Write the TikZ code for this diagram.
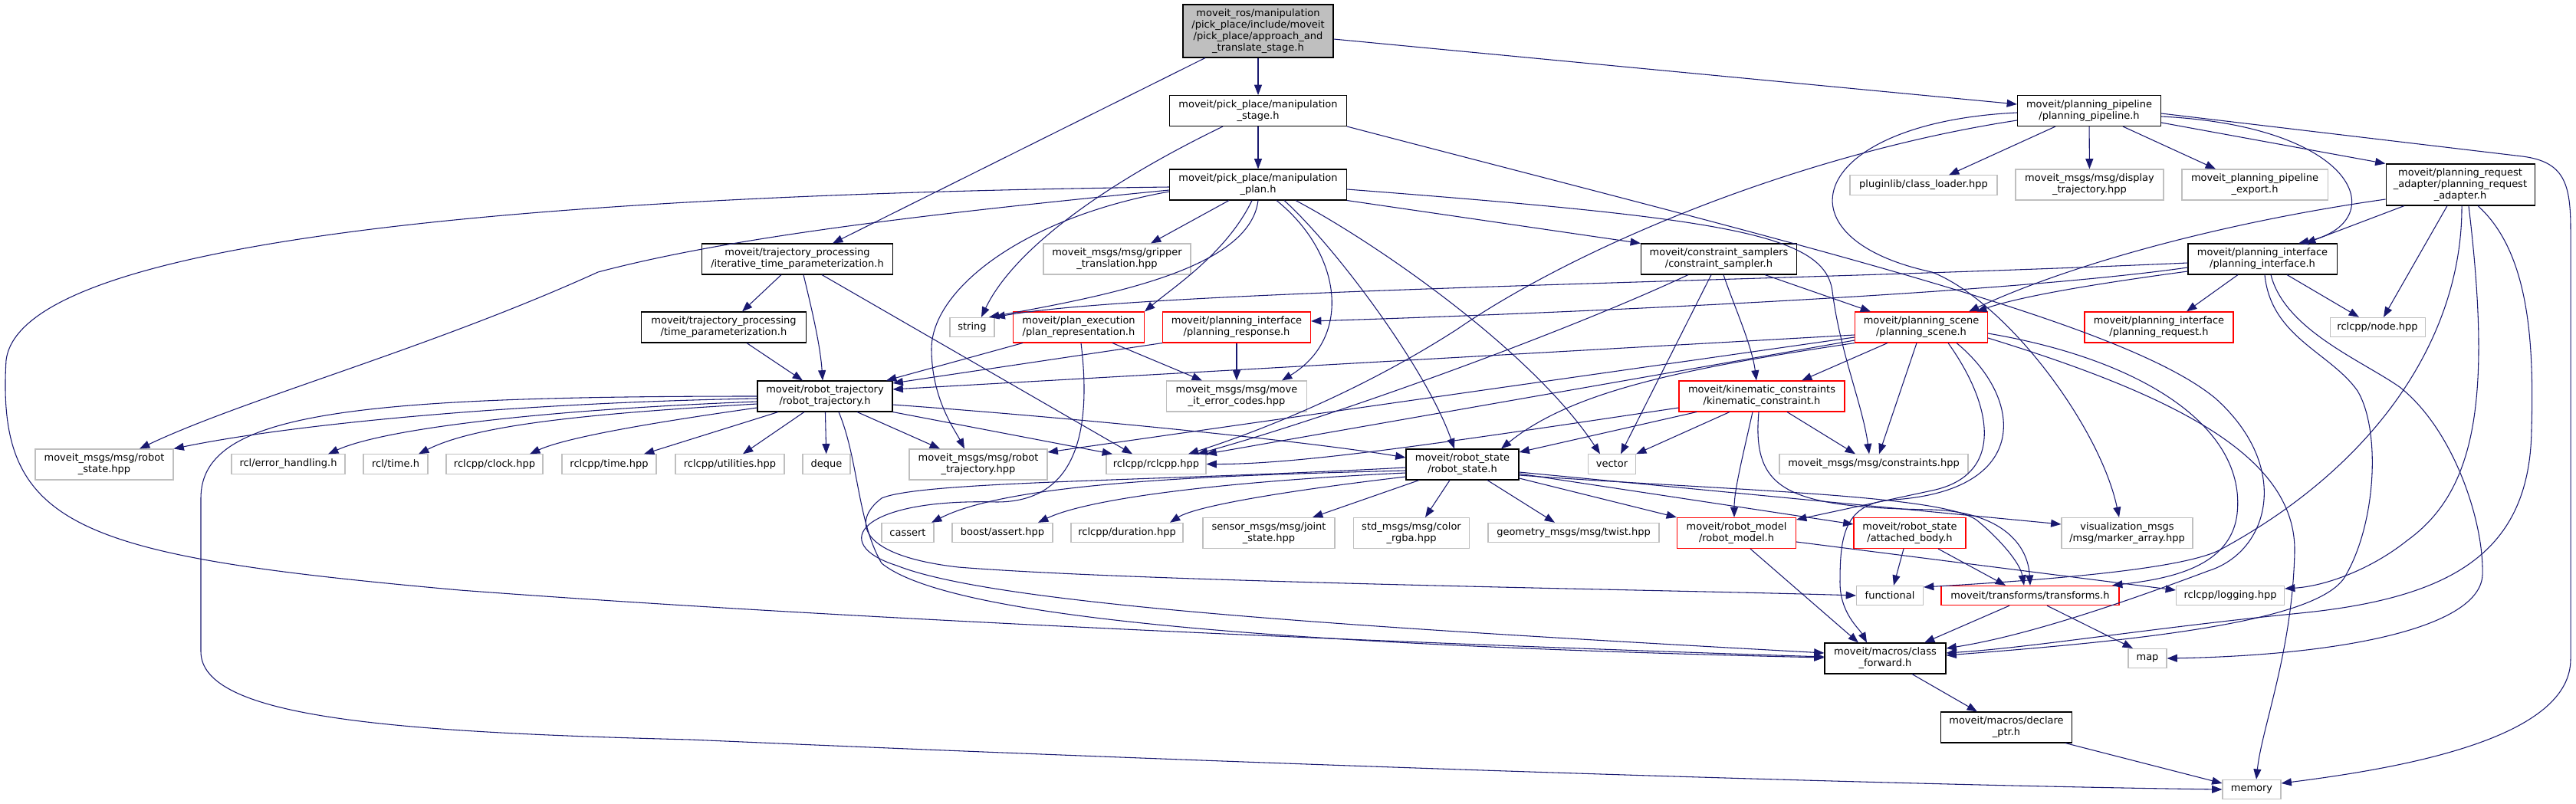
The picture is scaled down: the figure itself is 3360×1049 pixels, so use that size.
\documentclass[tikz,border=0pt]{standalone}
\usepackage{fontspec}
\setmainfont{DejaVu Sans}
\usepackage{tikz}
\usetikzlibrary{arrows.meta}
\definecolor{edgeblue}{HTML}{191970}
\definecolor{sysgray}{HTML}{BFBFBF}
\tikzset{
  hdr/.style    ={draw=black, fill=white, rectangle, align=center, inner sep=2pt,
                  line width=0.8pt, font=\fontsize{9.75}{11.25}\selectfont},
  sys/.style    ={hdr, draw=sysgray},
  trunc/.style  ={hdr, draw=red},
  rootbox/.style={hdr, fill=sysgray},
  l1/.style     ={minimum height=19pt},
  l2/.style     ={minimum height=30pt},
  l3/.style     ={minimum height=40.5pt},
  l4/.style     ={minimum height=51.75pt},
  incl/.style   ={draw=edgeblue, line width=0.8pt, -{Triangle[length=10pt,width=7.5pt]}},
}
\begin{document}
\begin{tikzpicture}[x=0.75pt,y=-0.75pt]
\useasboundingbox (0,0) rectangle (3360,1049);

\node[rootbox,l4,minimum width=147pt] (root) at (1641,40.5) {moveit\_ros/manipulation\\/pick\_place/include/moveit\\/pick\_place/approach\_and\\\_translate\_stage.h};
\node[hdr,l2,minimum width=173.25pt] (stage) at (1641,144.5) {moveit/pick\_place/manipulation\\\_stage.h};
\node[hdr,l2,minimum width=173.25pt] (plan) at (1641,241) {moveit/pick\_place/manipulation\\\_plan.h};
\node[hdr,l2,minimum width=186.75pt] (iter) at (1040,338) {moveit/trajectory\_processing\\/iterative\_time\_parameterization.h};
\node[sys,l2,minimum width=144pt] (grip) at (1457,338) {moveit\_msgs/msg/gripper\\\_translation.hpp};
\node[hdr,l2,minimum width=152.25pt] (csamp) at (2242,338) {moveit/constraint\_samplers\\/constraint\_sampler.h};
\node[sys,l1,minimum width=144pt] (plugin) at (2509,241.5) {pluginlib/class\_loader.hpp};
\node[hdr,l2,minimum width=140.25pt] (pipe) at (2725,144.5) {moveit/planning\_pipeline\\/planning\_pipeline.h};
\node[sys,l2,minimum width=144.75pt] (disp) at (2725.5,241) {moveit\_msgs/msg/display\\\_trajectory.hpp};
\node[sys,l2,minimum width=142.5pt] (pexport) at (2941,241) {moveit\_planning\_pipeline\\\_export.h};
\node[hdr,l3,minimum width=145.5pt] (adapt) at (3209,241) {moveit/planning\_request\\\_adapter/planning\_request\\\_adapter.h};
\node[hdr,l2,minimum width=145.5pt] (planif) at (2951,338) {moveit/planning\_interface\\/planning\_interface.h};
\node[hdr,l2,minimum width=161.25pt] (tparam) at (944,427) {moveit/trajectory\_processing\\/time\_parameterization.h};
\node[sys,l1,minimum width=43.5pt] (str) at (1268,427) {string};
\node[trunc,l2,minimum width=128.25pt] (planrep) at (1407,427) {moveit/plan\_execution\\/plan\_representation.h};
\node[trunc,l2,minimum width=144.75pt] (planresp) at (1613,427) {moveit/planning\_interface\\/planning\_response.h};
\node[trunc,l2,minimum width=129.75pt] (pscene) at (2506,427) {moveit/planning\_scene\\/planning\_scene.h};
\node[trunc,l2,minimum width=145.5pt] (planreq) at (2816,427) {moveit/planning\_interface\\/planning\_request.h};
\node[sys,l1,minimum width=93pt] (nodehpp) at (3101,427) {rclcpp/node.hpp};
\node[hdr,l2,minimum width=132pt] (rtraj) at (1076,517) {moveit/robot\_trajectory\\/robot\_trajectory.h};
\node[sys,l2,minimum width=137.25pt] (errcodes) at (1613,517) {moveit\_msgs/msg/move\\\_it\_error\_codes.hpp};
\node[trunc,l2,minimum width=162pt] (kincon) at (2298,517) {moveit/kinematic\_constraints\\/kinematic\_constraint.h};
\node[sys,l2,minimum width=135pt] (rsmsg) at (136,606) {moveit\_msgs/msg/robot\\\_state.hpp};
\node[sys,l1,minimum width=111pt] (errhand) at (376,605.5) {rcl/error\_handling.h};
\node[sys,l1,minimum width=63pt] (rcltime) at (516,605.5) {rcl/time.h};
\node[sys,l1,minimum width=94.5pt] (clock) at (645,605.5) {rclcpp/clock.hpp};
\node[sys,l1,minimum width=92.25pt] (rcltimehpp) at (794.5,605.5) {rclcpp/time.hpp};
\node[sys,l1,minimum width=106.5pt] (util) at (952,605.5) {rclcpp/utilities.hpp};
\node[sys,l1,minimum width=46.5pt] (deque) at (1078,605.5) {deque};
\node[sys,l2,minimum width=135pt] (rtmsg) at (1276,606) {moveit\_msgs/msg/robot\\\_trajectory.hpp};
\node[sys,l1,minimum width=97.5pt] (rclcpp) at (1508,605.5) {rclcpp/rclcpp.hpp};
\node[hdr,l2,minimum width=110.25pt] (rstate) at (1907.5,606) {moveit/robot\_state\\/robot\_state.h};
\node[sys,l1,minimum width=46.5pt] (vec) at (2102.5,605.5) {vector};
\node[sys,l1,minimum width=184.5pt] (constr) at (2444,605.5) {moveit\_msgs/msg/constraints.hpp};
\node[sys,l1,minimum width=51pt] (cassert) at (1184,695) {cassert};
\node[sys,l1,minimum width=98.25pt] (bassert) at (1307.5,695) {boost/assert.hpp};
\node[sys,l1,minimum width=109.5pt] (durat) at (1470,695) {rclcpp/duration.hpp};
\node[sys,l2,minimum width=129pt] (jstate) at (1655,695.5) {sensor\_msgs/msg/joint\\\_state.hpp};
\node[sys,l2,minimum width=113.25pt] (rgba) at (1841,695.5) {std\_msgs/msg/color\\\_rgba.hpp};
\node[sys,l1,minimum width=167.25pt] (twist) at (2052.5,695) {geometry\_msgs/msg/twist.hpp};
\node[trunc,l2,minimum width=116.25pt] (rmodel) at (2265,695.5) {moveit/robot\_model\\/robot\_model.h};
\node[trunc,l2,minimum width=109.5pt] (attbody) at (2491,695.5) {moveit/robot\_state\\/attached\_body.h};
\node[sys,l2,minimum width=128.25pt] (marker) at (2774.5,695.5) {visualization\_msgs\\/msg/marker\_array.hpp};
\node[sys,l1,minimum width=65.25pt] (functional) at (2465,777) {functional};
\node[trunc,l1,minimum width=174pt] (transf) at (2648,777) {moveit/transforms/transforms.h};
\node[sys,l1,minimum width=105.75pt] (logging) at (2909,777) {rclcpp/logging.hpp};
\node[hdr,l2,minimum width=118.5pt] (classfwd) at (2459,859) {moveit/macros/class\\\_forward.h};
\node[sys,l1,minimum width=37.5pt] (map) at (2801,859) {map};
\node[hdr,l2,minimum width=128.25pt] (declptr) at (2617,949) {moveit/macros/declare\\\_ptr.h};
\node[sys,l1,minimum width=57pt] (memory) at (2937,1030) {memory};

\draw[incl] (root) -- (stage);
\draw[incl] (root.south -| 1572,0) -- (iter.north -| 1086,0);
\draw[incl] (root.east |- 0,51) -- (pipe.west |- 0,136);

\draw[incl] (stage) -- (plan);
\draw[incl] (stage.south -| 1595,0) .. controls (1430,245) and (1320,330) .. (str.north -| 1280,0);
\draw[incl] (stage.south east) .. controls (2350,320) and (2770,420) .. (2890,520) .. controls (2990,610) and (2960,720) .. (2880,745) .. controls (2760,790) and (2640,830) .. (classfwd.east |- 0,846);

\draw[incl] (plan.south -| 1603,0) -- (grip.north -| 1501,0);
\draw[incl] (plan.south -| 1641,0) .. controls (1630,350) and (1450,385) .. (str.north -| 1290,0);
\draw[incl] (plan.south -| 1633,0) .. controls (1600,330) and (1530,375) .. (planrep.north east);
\draw[incl] (plan.south -| 1665,0) .. controls (1750,330) and (1765,440) .. (errcodes.north -| 1672,0);
\draw[incl] (plan.south -| 1675,0) .. controls (1740,320) and (1860,480) .. (rstate.north -| 1897,0);
\draw[incl] (plan.south -| 1690,0) .. controls (1800,320) and (2000,460) .. (vec.north -| 2087,0);
\draw[incl] (plan.south east) -- (csamp.north west);
\draw[incl] (plan.east |- 0,247) .. controls (2250,285) and (2380,305) .. (2390,380) .. controls (2400,460) and (2430,530) .. (constr.north -| 2438,0);
\draw[incl] (plan.west |- 0,248) .. controls (1200,280) and (950,310) .. (780,355) .. controls (560,455) and (320,520) .. (rsmsg.north -| 182,0);
\draw[incl] (plan.west |- 0,244) .. controls (900,252) and (30,290) .. (8,470) .. controls (-5,690) and (100,725) .. (600,770) .. controls (1200,815) and (2000,845) .. (classfwd.west |- 0,857);
\draw[incl] (plan.west |- 0,250) .. controls (1330,285) and (1215,380) .. (1215,455) .. controls (1215,520) and (1245,560) .. (rtmsg.north -| 1258,0);

\draw[incl] (iter.south -| 1019,0) -- (tparam.north -| 968,0);
\draw[incl] (iter.south -| 1048,0) .. controls (1058,400) and (1070,450) .. (rtraj.north -| 1073,0);
\draw[incl] (iter.south -| 1072,0) -- (rclcpp.north -| 1477,0);
\draw[incl] (tparam.south -| 974,0) -- (rtraj.north -| 1047,0);

\draw[incl] (planrep.south -| 1334,0) -- (rtraj.north -| 1156,0);
\draw[incl] (planrep.south -| 1451,0) -- (errcodes.north -| 1568,0);
\draw[incl] (planrep.south -| 1410,0) .. controls (1425,570) and (1400,655) .. (1300,655) .. controls (1120,650) and (1080,710) .. (1170,738) .. controls (1300,790) and (1800,820) .. (classfwd.west |- 0,852);

\draw[incl] (rtraj.west |- 0,520) .. controls (700,525) and (400,550) .. (rsmsg.north east);
\draw[incl] (rtraj.west |- 0,524) .. controls (700,535) and (500,560) .. (errhand.north -| 428,0);
\draw[incl] (rtraj.west |- 0,527) .. controls (760,540) and (620,555) .. (rcltime.north -| 546,0);
\draw[incl] (rtraj.west |- 0,532) .. controls (860,550) and (740,570) .. (clock.north -| 691,0);
\draw[incl] (rtraj.south -| 1015,0) -- (rcltimehpp.north -| 840,0);
\draw[incl] (rtraj.south -| 1049,0) -- (util.north -| 969,0);
\draw[incl] (rtraj) -- (deque);
\draw[incl] (rtraj.south -| 1118,0) -- (rtmsg.north -| 1226,0);
\draw[incl] (rtraj.south east) -- (rclcpp.north -| 1451,0);
\draw[incl] (rtraj.east |- 0,528) .. controls (1400,545) and (1700,575) .. (rstate.west |- 0,597);
\draw[incl] (rtraj.west |- 0,517) .. controls (450,517) and (262,540) .. (262,650) -- (262,850) .. controls (262,935) and (500,955) .. (900,965) .. controls (1700,1000) and (2500,1025) .. (memory.west);
\draw[incl] (rtraj.south -| 1094,0) .. controls (1120,600) and (1118,680) .. (1150,735) .. controls (1230,800) and (1600,840) .. (classfwd.west |- 0,858);

\draw[incl] (planresp.south west) -- (rtraj.east |- 0,500);
\draw[incl] (planresp) -- (errcodes);

\draw[incl] (csamp.south -| 2202,0) .. controls (2050,430) and (1750,540) .. (rclcpp.north -| 1562,0);
\draw[incl] (csamp.south -| 2232,0) -- (vec.north -| 2114,0);
\draw[incl] (csamp.south -| 2248,0) .. controls (2262,400) and (2285,450) .. (kincon.north -| 2291,0);
\draw[incl] (csamp.south -| 2302,0) -- (pscene.north -| 2440,0);

\draw[incl] (pipe.south -| 2681,0) -- (plugin.north -| 2542,0);
\draw[incl] (pipe) -- (disp);
\draw[incl] (pipe.south -| 2769,0) -- (pexport.north -| 2890,0);
\draw[incl] (pipe.east |- 0,160) -- (adapt.north west);
\draw[incl] (pipe.east |- 0,152) .. controls (3080,165) and (3120,290) .. (planif.north -| 2998,0);
\draw[incl] (pipe.east |- 0,148) -- (3290,204) .. controls (3345,211) and (3353,240) .. (3353,300) -- (3353,860) .. controls (3353,960) and (3150,1000) .. (memory.east |- 0,1022);
\draw[incl] (pipe.west |- 0,157) .. controls (2350,200) and (2060,320) .. (1900,430) .. controls (1760,520) and (1620,570) .. (rclcpp.north -| 1550,0);
\draw[incl] (pipe.west |- 0,147) .. controls (2360,160) and (2310,310) .. (2520,355) .. controls (2620,395) and (2740,560) .. (marker.north -| 2764,0);

\draw[incl] (adapt.south -| 3136,0) -- (planif.north -| 3007,0);
\draw[incl] (adapt.west |- 0,260) .. controls (2900,290) and (2700,345) .. (pscene.north -| 2568,0);
\draw[incl] (adapt.south -| 3192,0) -- (nodehpp.north -| 3109,0);
\draw[incl] (adapt.south -| 3211,0) .. controls (3212,430) and (3110,600) .. (2900,715) .. controls (2860,740) and (2700,755) .. (functional.east |- 0,766);
\draw[incl] (adapt.south -| 3220,0) .. controls (3250,520) and (3230,640) .. (3140,705) .. controls (3090,745) and (3030,765) .. (logging.east |- 0,768);
\draw[incl] (adapt.south -| 3232,0) .. controls (3300,330) and (3305,450) .. (3302,560) .. controls (3300,720) and (3200,780) .. (3000,800) .. controls (2800,820) and (2650,845) .. (classfwd.east |- 0,852);

\draw[incl] (planif.south -| 2919,0) -- (planreq.north -| 2852,0);
\draw[incl] (planif.south -| 2983,0) -- (nodehpp.north -| 3077,0);
\draw[incl] (planif.west |- 0,343) .. controls (2300,368) and (1500,378) .. (str.north east);
\draw[incl] (planif.west |- 0,349) .. controls (2600,385) and (2000,410) .. (planresp.east |- 0,419);
\draw[incl] (planif.west |- 0,354) .. controls (2750,368) and (2640,385) .. (pscene.north -| 2578,0);
\draw[incl] (planif.south -| 2954,0) .. controls (2962,440) and (3040,460) .. (3075,510) .. controls (3105,560) and (3100,680) .. (3060,750) .. controls (3030,810) and (2800,835) .. (classfwd.east |- 0,855);
\draw[incl] (planif.south -| 2962,0) .. controls (2980,430) and (3080,470) .. (3130,505) .. controls (3200,560) and (3240,680) .. (3238,750) .. controls (3235,820) and (3050,855) .. (map.east);

\draw[incl] (pscene.west |- 0,437) -- (rtraj.east |- 0,508);
\draw[incl] (pscene.west |- 0,440) -- (rtmsg.east |- 0,590);
\draw[incl] (pscene.west |- 0,444) -- (rclcpp.north east);
\draw[incl] (pscene.south west) .. controls (2200,480) and (2050,510) .. (rstate.north -| 1958,0);
\draw[incl] (pscene.south -| 2462,0) -- (kincon.north -| 2350,0);
\draw[incl] (pscene.south -| 2500,0) -- (constr.north -| 2451,0);
\draw[incl] (pscene.south -| 2541,0) .. controls (2600,530) and (2615,620) .. (2520,640) -- (rmodel.east |- 0,678);
\draw[incl] (pscene.south -| 2552,0) .. controls (2640,520) and (2650,640) .. (2470,652) .. controls (2405,656) and (2400,700) .. (2400,760) .. controls (2400,800) and (2425,820) .. (classfwd.north -| 2435,0);
\draw[incl] (pscene.east |- 0,435) .. controls (2800,470) and (2930,560) .. (2918,670) .. controls (2910,740) and (2830,755) .. (transf.north -| 2755,0);
\draw[incl] (pscene.east |- 0,441) .. controls (2850,520) and (2995,600) .. (2993,720) .. controls (2990,850) and (2950,950) .. (memory.north -| 2943,0);

\draw[incl] (kincon.west |- 0,532) .. controls (1900,575) and (1700,606) .. (rclcpp.east);
\draw[incl] (kincon.south -| 2213,0) -- (rstate.east |- 0,590);
\draw[incl] (kincon.south -| 2256,0) -- (vec.north east);
\draw[incl] (kincon.south -| 2286,0) .. controls (2272,600) and (2262,640) .. (rmodel.north -| 2262,0);
\draw[incl] (kincon.south -| 2331,0) -- (constr.north -| 2420,0);
\draw[incl] (kincon.south -| 2294,0) .. controls (2285,640) and (2330,662) .. (2520,665) .. controls (2610,668) and (2645,710) .. (transf.north -| 2648,0);

\draw[incl] (rstate.west |- 0,614) .. controls (1600,620) and (1320,628) .. (cassert.north -| 1215,0);
\draw[incl] (rstate.west |- 0,617) .. controls (1600,628) and (1420,650) .. (bassert.north -| 1354,0);
\draw[incl] (rstate.west |- 0,622) .. controls (1680,640) and (1560,660) .. (durat.north -| 1526,0);
\draw[incl] (rstate.west |- 0,610) .. controls (1500,628) and (1200,628) .. (1150,650) .. controls (1110,680) and (1120,725) .. (1250,740) .. controls (1500,760) and (2200,770) .. (functional.west);
\draw[incl] (rstate.south -| 1851,0) -- (jstate.north -| 1712,0);
\draw[incl] (rstate.south -| 1891,0) -- (rgba.north -| 1859,0);
\draw[incl] (rstate.south -| 1940,0) -- (twist.north -| 2028,0);
\draw[incl] (rstate.east |- 0,624) -- (rmodel.north west);
\draw[incl] (rstate.east |- 0,618) -- (attbody.west |- 0,684);
\draw[incl] (rstate.east |- 0,616) -- (marker.west |- 0,684);
\draw[incl] (rstate.east |- 0,620) .. controls (2250,640) and (2540,645) .. (2580,680) .. controls (2610,705) and (2635,735) .. (transf.north -| 2640,0);

\draw[incl] (rmodel.south -| 2283,0) -- (classfwd.north -| 2424,0);
\draw[incl] (rmodel.east |- 0,707) -- (logging.west |- 0,770);
\draw[incl] (attbody.south -| 2483,0) -- (functional.north -| 2470,0);
\draw[incl] (attbody.south -| 2528,0) -- (transf.north -| 2616,0);
\draw[incl] (transf.south -| 2621,0) -- (classfwd.north -| 2510,0);
\draw[incl] (transf.south -| 2670,0) -- (map.north -| 2782,0);
\draw[incl] (classfwd.south -| 2494,0) -- (declptr.north -| 2579,0);
\draw[incl] (declptr.south -| 2694,0) -- (memory.west |- 0,1022);
\end{tikzpicture}
\end{document}
